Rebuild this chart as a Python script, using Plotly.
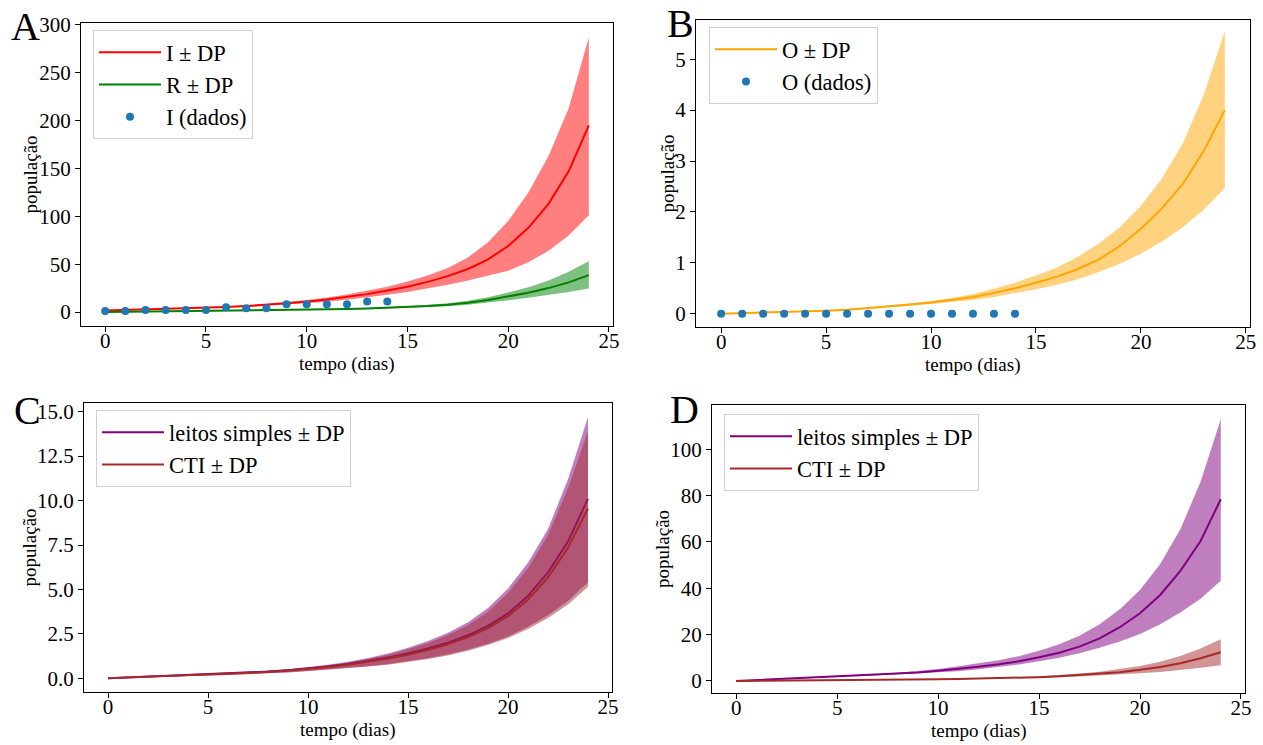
import plotly.graph_objects as go

# --- time axis (days) ---
t = list(range(25))
t_dados = list(range(15))

# --- Panel A: infected (I) and recovered (R) ---
I_media = [1.5, 2.0, 2.5, 3.0, 3.6, 4.3, 5.2, 6.2, 7.5, 9.0, 10.8, 13.0, 15.6, 18.7, 22.4,
           26.5, 31.5, 37.5, 45.0, 55.0, 69.0, 88.0, 113.0, 147.0, 195.0]
I_sup = [1.6, 2.1, 2.7, 3.3, 4.0, 4.8, 5.8, 7.0, 8.5, 10.3, 12.5, 15.1, 18.2, 22.0, 26.5,
         31.8, 38.2, 46.0, 57.0, 73.0, 95.0, 125.0, 163.0, 213.0, 287.0]
I_inf = [1.4, 1.9, 2.3, 2.8, 3.3, 3.9, 4.6, 5.5, 6.5, 7.7, 9.1, 10.8, 12.8, 15.2, 18.0,
         21.0, 24.5, 28.5, 33.0, 38.0, 43.0, 52.0, 64.0, 80.0, 101.0]
R_media = [0.0, 0.2, 0.4, 0.6, 0.8, 1.0, 1.2, 1.4, 1.7, 2.0, 2.3, 2.7, 3.1, 3.6, 4.3,
           5.1, 6.2, 7.6, 9.6, 12.6, 16.2, 20.2, 25.0, 31.0, 38.5]
R_sup = [0.0, 0.2, 0.4, 0.6, 0.8, 1.0, 1.3, 1.5, 1.8, 2.2, 2.6, 3.0, 3.5, 4.2, 5.0,
         6.0, 7.4, 9.2, 11.8, 15.5, 20.5, 26.0, 33.0, 42.0, 53.0]
R_inf = [0.0, 0.2, 0.4, 0.6, 0.8, 1.0, 1.2, 1.4, 1.6, 1.9, 2.1, 2.4, 2.8, 3.2, 3.7,
         4.3, 5.1, 6.1, 7.5, 9.6, 12.2, 14.8, 17.5, 20.8, 24.5]
I_dados = [1, 1, 2, 2, 2, 2, 5, 4, 4, 8, 8, 8, 8, 11, 11]

# --- Panel B: deaths (O) ---
O_media = [0.0, 0.01, 0.02, 0.03, 0.045, 0.06, 0.08, 0.11, 0.14, 0.18, 0.22, 0.27, 0.33,
           0.41, 0.5, 0.61, 0.73, 0.88, 1.07, 1.33, 1.67, 2.07, 2.55, 3.2, 4.0]
O_sup = [0.0, 0.01, 0.02, 0.035, 0.05, 0.07, 0.09, 0.12, 0.155, 0.2, 0.25, 0.31, 0.39,
         0.49, 0.61, 0.75, 0.91, 1.12, 1.38, 1.7, 2.12, 2.65, 3.35, 4.3, 5.55]
O_inf = [0.0, 0.01, 0.02, 0.03, 0.04, 0.055, 0.07, 0.095, 0.125, 0.16, 0.19, 0.23, 0.27,
         0.33, 0.4, 0.48, 0.57, 0.68, 0.82, 0.98, 1.18, 1.42, 1.7, 2.05, 2.47]
O_dados = [0, 0, 0, 0, 0, 0, 0, 0, 0, 0, 0, 0, 0, 0, 0]

# --- Panel C: beds ---
C_leitos_media = [0.0, 0.05, 0.09, 0.13, 0.17, 0.21, 0.26, 0.31, 0.38, 0.46, 0.55, 0.66, 0.8,
                  0.97, 1.17, 1.4, 1.68, 2.01, 2.42, 2.95, 3.65, 4.63, 5.96, 7.7, 10.1]
C_leitos_sup = [0.0, 0.05, 0.09, 0.13, 0.18, 0.23, 0.28, 0.34, 0.42, 0.51, 0.62, 0.76, 0.93,
                1.14, 1.4, 1.72, 2.1, 2.57, 3.15, 3.95, 5.05, 6.5, 8.4, 11.2, 14.7]
C_leitos_inf = [0.0, 0.04, 0.07, 0.1, 0.13, 0.16, 0.19, 0.23, 0.28, 0.34, 0.42, 0.5, 0.58,
                0.68, 0.8, 0.95, 1.13, 1.35, 1.62, 1.95, 2.35, 2.9, 3.55, 4.35, 5.4]
C_cti_media = [0.0, 0.04, 0.08, 0.12, 0.16, 0.2, 0.25, 0.3, 0.36, 0.44, 0.52, 0.63, 0.76,
               0.92, 1.11, 1.33, 1.6, 1.92, 2.32, 2.82, 3.5, 4.42, 5.68, 7.35, 9.55]
C_cti_sup = [0.0, 0.04, 0.08, 0.12, 0.17, 0.22, 0.27, 0.33, 0.4, 0.49, 0.59, 0.72, 0.88,
             1.08, 1.33, 1.63, 1.99, 2.43, 2.98, 3.75, 4.8, 6.2, 8.05, 10.7, 13.9]
C_cti_inf = [0.0, 0.04, 0.07, 0.1, 0.13, 0.16, 0.19, 0.23, 0.27, 0.33, 0.4, 0.48, 0.56,
             0.66, 0.77, 0.91, 1.08, 1.29, 1.55, 1.87, 2.27, 2.78, 3.4, 4.15, 5.15]

# --- Panel D: beds ---
D_leitos_media = [0.0, 0.4, 0.7, 1.0, 1.4, 1.8, 2.2, 2.6, 3.1, 3.7, 4.4, 5.2, 6.1, 7.2, 8.5,
                  10.2, 12.2, 14.8, 18.4, 23.2, 29.2, 37.1, 47.5, 60.4, 78.4]
D_leitos_sup = [0.0, 0.4, 0.8, 1.1, 1.5, 1.9, 2.4, 2.9, 3.5, 4.3, 5.2, 6.3, 7.5, 8.9, 10.7,
                13.0, 15.8, 19.5, 24.5, 31.0, 39.3, 50.5, 65.5, 86.0, 113.0]
D_leitos_inf = [0.0, 0.4, 0.7, 1.0, 1.3, 1.7, 2.0, 2.4, 2.8, 3.2, 3.6, 4.2, 5.0, 6.0, 7.1,
                8.5, 10.0, 12.0, 14.3, 17.0, 20.3, 24.5, 29.5, 35.5, 43.2]
D_cti_media = [0.0, 0.05, 0.1, 0.15, 0.2, 0.27, 0.34, 0.42, 0.5, 0.6, 0.72, 0.85, 1.0, 1.2,
               1.4, 1.65, 2.0, 2.5, 3.1, 3.8, 4.8, 6.0, 7.6, 9.8, 12.4]
D_cti_sup = [0.0, 0.05, 0.11, 0.16, 0.22, 0.29, 0.37, 0.46, 0.56, 0.68, 0.82, 0.97, 1.15,
             1.4, 1.7, 2.05, 2.55, 3.2, 4.0, 5.1, 6.5, 8.3, 10.8, 14.0, 18.0]
D_cti_inf = [0.0, 0.05, 0.09, 0.14, 0.19, 0.25, 0.31, 0.37, 0.44, 0.52, 0.62, 0.72, 0.83,
             0.97, 1.13, 1.35, 1.62, 1.95, 2.3, 2.75, 3.3, 3.9, 4.7, 5.7, 6.8]

FONT = "Liberation Serif, Times New Roman, serif"
W, H = 1263, 745

fig = go.Figure()


def banda(x, inf, sup, fill, ax):
    xa, ya = ax
    fig.add_trace(go.Scatter(x=x, y=inf, mode="lines", line=dict(width=0, color=fill),
                             showlegend=False, hoverinfo="skip", xaxis=xa, yaxis=ya))
    fig.add_trace(go.Scatter(x=x, y=sup, mode="lines", line=dict(width=0, color=fill),
                             fill="tonexty", fillcolor=fill, showlegend=False,
                             hoverinfo="skip", xaxis=xa, yaxis=ya))


def linha(x, y, cor, nome, ax, leg):
    xa, ya = ax
    fig.add_trace(go.Scatter(x=x, y=y, mode="lines", line=dict(width=2, color=cor),
                             name=nome, legend=leg, xaxis=xa, yaxis=ya))


def pontos(x, y, nome, ax, leg):
    xa, ya = ax
    fig.add_trace(go.Scatter(x=x, y=y, mode="markers",
                             marker=dict(size=8, color="#1f77b4"),
                             name=nome, legend=leg, xaxis=xa, yaxis=ya))


A = ("x", "y")
B = ("x2", "y2")
C = ("x3", "y3")
D = ("x4", "y4")

# Panel A
banda(t, I_inf, I_sup, "rgba(255,0,0,0.5)", A)
linha(t, I_media, "#ff0000", "I ± DP", A, "legend")
banda(t, R_inf, R_sup, "rgba(0,128,0,0.5)", A)
linha(t, R_media, "#008000", "R ± DP", A, "legend")
pontos(t_dados, I_dados, "I (dados)", A, "legend")

# Panel B
banda(t, O_inf, O_sup, "rgba(255,165,0,0.5)", B)
linha(t, O_media, "#ffa500", "O ± DP", B, "legend2")
pontos(t_dados, O_dados, "O (dados)", B, "legend2")

# Panel C
banda(t, C_leitos_inf, C_leitos_sup, "rgba(128,0,128,0.5)", C)
linha(t, C_leitos_media, "#800080", "leitos simples ± DP", C, "legend3")
banda(t, C_cti_inf, C_cti_sup, "rgba(165,42,42,0.5)", C)
linha(t, C_cti_media, "#a52a2a", "CTI ± DP", C, "legend3")

# Panel D
banda(t, D_leitos_inf, D_leitos_sup, "rgba(128,0,128,0.5)", D)
linha(t, D_leitos_media, "#800080", "leitos simples ± DP", D, "legend4")
banda(t, D_cti_inf, D_cti_sup, "rgba(165,42,42,0.5)", D)
linha(t, D_cti_media, "#a52a2a", "CTI ± DP", D, "legend4")


def px_x(a, b):
    return [a / W, b / W]


def px_y(top, bottom):
    return [1 - bottom / H, 1 - top / H]


eixo_comum = dict(showline=True, linecolor="black", linewidth=1, mirror=True,
                  ticks="outside", ticklen=5, tickcolor="black", showgrid=False,
                  zeroline=False, automargin=False,
                  tickfont=dict(family=FONT, size=21, color="black"))

# (x-domain px, y-domain px, y-range, y-dtick, y-format, y-title x px)
paineis = [
    ((81, 613), (23, 326), [-14.6, 302], 50, None, 30),
    ((696, 1250), (20, 327), [-0.26, 5.77], 1, None, 667),
    ((84, 612), (403, 692), [-0.77, 15.49], 2.5, ".1f", 29),
    ((712, 1245), (405, 693), [-5.2, 119.1], 20, None, 662),
]

layout_axes = {}
anotacoes = []
for i, (xd, yd, yr, dy, fmt, ytx) in enumerate(paineis, start=1):
    sx = "" if i == 1 else str(i)
    layout_axes["xaxis" + sx] = dict(
        eixo_comum, domain=px_x(*xd), range=[-1.2, 25.2], dtick=5, tick0=0,
        anchor="y" + sx, ticklabelstandoff=-9)
    yax = dict(eixo_comum, domain=px_y(*yd), range=yr, dtick=dy, tick0=0,
               anchor="x" + sx)
    if fmt:
        yax["tickformat"] = fmt
    layout_axes["yaxis" + sx] = yax
    # axis titles
    anotacoes.append(dict(text="tempo (dias)", x=(xd[0] + xd[1]) / 2 / W,
                          y=1 - (yd[1] + 38) / H, xref="paper", yref="paper",
                          xanchor="center", yanchor="middle", showarrow=False,
                          font=dict(family=FONT, size=19, color="black")))
    anotacoes.append(dict(text="população", x=ytx / W,
                          y=1 - (yd[0] + yd[1]) / 2 / H, xref="paper", yref="paper",
                          xanchor="center", yanchor="middle", showarrow=False,
                          textangle=-90,
                          font=dict(family=FONT, size=19, color="black")))

# panel letters
for letra, xp, yp in [("A", 9, 26), ("B", 665, 24), ("C", 12, 410), ("D", 668, 409)]:
    anotacoes.append(dict(text=letra, x=xp / W, y=1 - yp / H, xref="paper", yref="paper",
                          xanchor="left", yanchor="middle", showarrow=False,
                          font=dict(family=FONT, size=40, color="black")))


def legenda(xpx, ypx):
    return dict(x=xpx / W, y=1 - ypx / H, xanchor="left", yanchor="top",
                traceorder="normal",
                bgcolor="rgba(255,255,255,0.8)", bordercolor="#d0d0d0", borderwidth=1,
                font=dict(family=FONT, size=22.5, color="black"),
                itemwidth=62)


fig.update_layout(
    width=W, height=H,
    margin=dict(l=0, r=0, t=0, b=0, autoexpand=False),
    paper_bgcolor="white", plot_bgcolor="white",
    font=dict(family=FONT, color="black"),
    legend=legenda(93, 30),
    legend2=legenda(709, 27),
    legend3=legenda(96, 410),
    legend4=legenda(724, 414),
    annotations=anotacoes,
    **layout_axes,
)

fig.write_html("out.html")
